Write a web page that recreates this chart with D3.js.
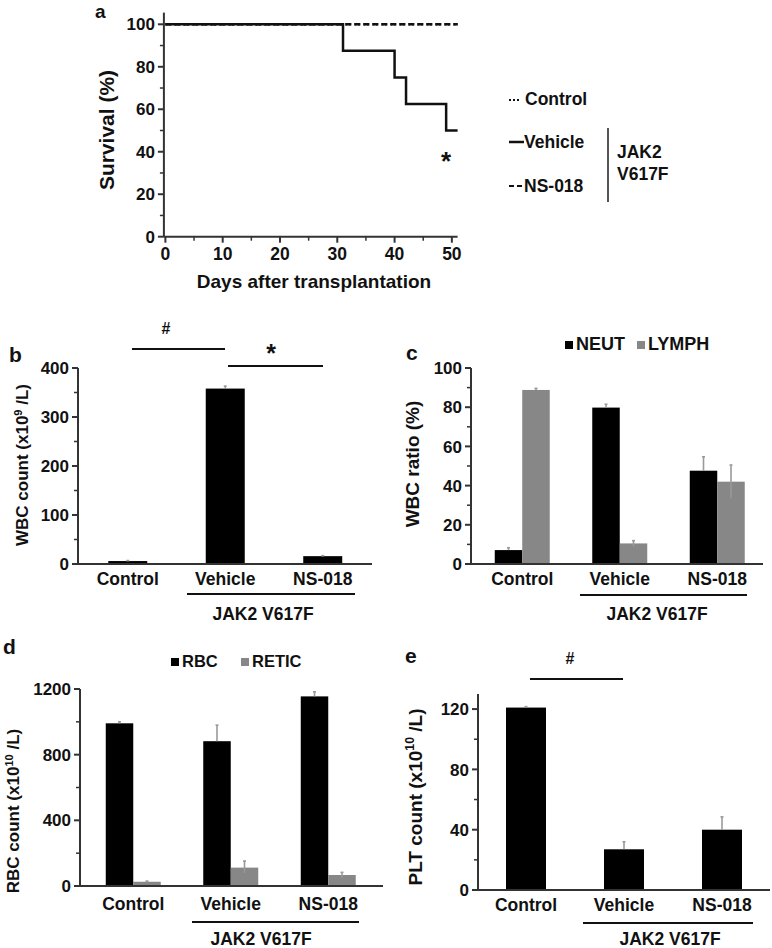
<!DOCTYPE html>
<html><head><meta charset="utf-8">
<script src="https://cdn.jsdelivr.net/npm/d3@7"></script>
<style>
html,body{margin:0;padding:0;background:#fff;}
svg text{font-family:"Liberation Sans",Arial,Helvetica,sans-serif;font-weight:bold;fill:#111;}
</style></head>
<body>
<svg id="chart" width="772" height="948"></svg>
<script>
// ---------- DATA ----------
// Panel a: Kaplan–Meier survival
const survDays = [0, 31, 40, 42, 49, 51];
const survVehicle = [100, 87.5, 75, 62.5, 50, 50];
const survControlDays = [0, 51];
const survControl = [100, 100];
const survNSDays = [0, 51];
const survNS = [100, 100];
const survXTicks = [0, 10, 20, 30, 40, 50];
const survYTicks = [0, 20, 40, 60, 80, 100];

const groups = ["Control", "Vehicle", "NS-018"];

// Panel b: WBC count
const wbcValues = [6, 358, 16];
const wbcErrHigh = [7, 363, 17];
const wbcTicks = [0, 100, 200, 300, 400];

// Panel c: WBC ratio
const neutValues = [7.1, 79.8, 47.6];
const neutErrHigh = [8.3, 81.5, 54.7];
const neutErrLow = [7.1, 79.8, 47.6];
const lymphValues = [88.8, 10.5, 42];
const lymphErrHigh = [89.6, 11.9, 50.5];
const lymphErrLow = [88.8, 8.9, 33.5];
const ratioTicks = [0, 20, 40, 60, 80, 100];

// Panel d: RBC / RETIC count
const rbcValues = [991, 882, 1155];
const rbcErrHigh = [1000, 980, 1183];
const rbcErrLow = [991, 882, 1155];
const reticValues = [26, 112, 67];
const reticErrHigh = [30, 152, 83];
const reticErrLow = [22, 79, 51];
const rbcTicks = [0, 400, 800, 1200];

// Panel e: PLT count
const pltValues = [121, 27, 40];
const pltErrHigh = [121.6, 32, 48.5];
const pltTicks = [0, 40, 80, 120];

// ---------- DRAW ----------
const svg = d3.select("#chart");
const AX = "#333";
const GRAY = "#878787";
const FS = 17;
const CFS = 17.5;

function yAxis(g, y, x0, ticks, minorTicks) {
  g.append("line").attr("x1", x0).attr("x2", x0)
    .attr("y1", y.range()[0]).attr("y2", y.range()[1])
    .attr("stroke", AX).attr("stroke-width", 2);
  minorTicks.forEach(t => g.append("line").attr("x1", x0 - 4).attr("x2", x0)
    .attr("y1", y(t)).attr("y2", y(t)).attr("stroke", AX).attr("stroke-width", 1.5));
  ticks.forEach(t => {
    g.append("line").attr("x1", x0 - 6).attr("x2", x0).attr("y1", y(t)).attr("y2", y(t))
      .attr("stroke", AX).attr("stroke-width", 2);
    g.append("text").attr("x", x0 - 9).attr("y", y(t)).attr("dy", "0.36em")
      .attr("text-anchor", "end").attr("font-size", FS).text(t);
  });
}

function xAxisCat(g, x, y0, x1, x2, labelBase) {
  g.append("line").attr("x1", x1).attr("x2", x2).attr("y1", y0).attr("y2", y0)
    .attr("stroke", AX).attr("stroke-width", 2);
  groups.forEach(c => g.append("text").attr("x", x(c) + x.bandwidth() / 2)
    .attr("y", labelBase).attr("text-anchor", "middle").attr("font-size", CFS).text(c));
}

function jakBracket(g, x1, x2, yl, cx, base) {
  g.append("line").attr("x1", x1).attr("x2", x2).attr("y1", yl).attr("y2", yl)
    .attr("stroke", "#111").attr("stroke-width", 2);
  g.append("text").attr("x", cx).attr("y", base).attr("text-anchor", "middle")
    .attr("font-size", CFS).text("JAK2 V617F");
}

function yLabel(g, cx, cy, fs, main, sup, tail) {
  const t = g.append("text").attr("transform", `translate(${cx},${cy}) rotate(-90)`)
    .attr("text-anchor", "middle").attr("dy", "0.36em").attr("font-size", fs);
  t.append("tspan").text(main);
  if (sup) {
    t.append("tspan").attr("font-size", fs * 0.65).attr("dy", "-0.6em").text(sup);
    t.append("tspan").attr("dy", "0.4em").attr("font-size", fs).text(tail);
  }
}

function errBar(g, xc, yTop, yBot) {
  g.append("line").attr("x1", xc).attr("x2", xc).attr("y1", yTop).attr("y2", yBot)
    .attr("stroke", "#9a9a9a").attr("stroke-width", 1.6);
  g.append("line").attr("x1", xc - 1.5).attr("x2", xc + 1.5).attr("y1", yTop).attr("y2", yTop)
    .attr("stroke", "#9a9a9a").attr("stroke-width", 1.6);
}

function panelLetter(x, y, s, fs) {
  svg.append("text").attr("x", x).attr("y", y).attr("font-size", fs || 21).text(s);
}

function minors(ticks) {
  const m = [];
  for (let i = 0; i < ticks.length - 1; i++) m.push((ticks[i] + ticks[i + 1]) / 2);
  return m;
}

// ===== Panel a =====
{
  const g = svg.append("g");
  const x = d3.scaleLinear().domain([0, 51]).range([165.4, 457.6]);
  const y = d3.scaleLinear().domain([0, 100]).range([236.7, 24.3]);
  const x0 = x(0) - 1.5;
  // y axis
  g.append("line").attr("x1", x0).attr("x2", x0).attr("y1", y(0)).attr("y2", y(105.5))
    .attr("stroke", AX).attr("stroke-width", 2);
  minors(survYTicks).forEach(t => g.append("line").attr("x1", x0 - 4).attr("x2", x0)
    .attr("y1", y(t)).attr("y2", y(t)).attr("stroke", AX).attr("stroke-width", 1.5));
  survYTicks.forEach(t => {
    g.append("line").attr("x1", x0 - 6).attr("x2", x0).attr("y1", y(t)).attr("y2", y(t))
      .attr("stroke", AX).attr("stroke-width", 2);
    g.append("text").attr("x", x0 - 9).attr("y", y(t)).attr("dy", "0.36em")
      .attr("text-anchor", "end").attr("font-size", FS).text(t);
  });
  // x axis
  g.append("line").attr("x1", x0).attr("x2", x(51)).attr("y1", y(0)).attr("y2", y(0))
    .attr("stroke", AX).attr("stroke-width", 2);
  minors(survXTicks).forEach(t => g.append("line").attr("x1", x(t)).attr("x2", x(t))
    .attr("y1", y(0)).attr("y2", y(0) + 4).attr("stroke", AX).attr("stroke-width", 1.5));
  survXTicks.forEach(t => {
    g.append("line").attr("x1", x(t)).attr("x2", x(t)).attr("y1", y(0)).attr("y2", y(0) + 6)
      .attr("stroke", AX).attr("stroke-width", 2);
    g.append("text").attr("x", x(t)).attr("y", 260).attr("text-anchor", "middle")
      .attr("font-size", FS + 0.5).text(t);
  });
  g.append("text").attr("x", 314).attr("y", 288).attr("text-anchor", "middle")
    .attr("font-size", 19).text("Days after transplantation");
  yLabel(g, 106, 130, 21, "Survival (%)");

  const line = d3.line().x(d => x(d[0])).y(d => y(d[1])).curve(d3.curveStepAfter);
  // control dotted pattern nested inside NS-018 dashes (period 9) so it hides beneath them
  g.append("path").datum(d3.zip(survControlDays, survControl)).attr("d", line)
    .attr("fill", "none").attr("stroke", "#111").attr("stroke-width", 2.5).attr("stroke-dasharray", "2,1.5,2,3.5");
  g.append("path").datum(d3.zip(survNSDays, survNS)).attr("d", line)
    .attr("fill", "none").attr("stroke", "#111").attr("stroke-width", 2.5).attr("stroke-dasharray", "6,3");
  g.append("path").datum(d3.zip(survDays, survVehicle)).attr("d", line)
    .attr("fill", "none").attr("stroke", "#111").attr("stroke-width", 2.5);
  g.append("text").attr("x", 446).attr("y", 170).attr("text-anchor", "middle")
    .attr("font-size", 26).text("*");

  // legend
  g.append("line").attr("x1", 509).attr("x2", 521).attr("y1", 100).attr("y2", 100)
    .attr("stroke", "#111").attr("stroke-width", 2).attr("stroke-dasharray", "2,2");
  g.append("text").attr("x", 525).attr("y", 105).attr("font-size", CFS).text("Control");
  g.append("line").attr("x1", 509).attr("x2", 524).attr("y1", 142).attr("y2", 142)
    .attr("stroke", "#111").attr("stroke-width", 2.5);
  g.append("text").attr("x", 524).attr("y", 148).attr("font-size", CFS).text("Vehicle");
  g.append("line").attr("x1", 509).attr("x2", 523).attr("y1", 186).attr("y2", 186)
    .attr("stroke", "#111").attr("stroke-width", 2).attr("stroke-dasharray", "5,3");
  g.append("text").attr("x", 524).attr("y", 192).attr("font-size", CFS).text("NS-018");
  g.append("line").attr("x1", 608).attr("x2", 608).attr("y1", 128).attr("y2", 202)
    .attr("stroke", "#555").attr("stroke-width", 2);
  g.append("text").attr("x", 617).attr("y", 158).attr("font-size", CFS).text("JAK2");
  g.append("text").attr("x", 617).attr("y", 180).attr("font-size", CFS).text("V617F");
}
panelLetter(95, 18, "a", 19);

// ===== Panel b =====
{
  const g = svg.append("g");
  const x = d3.scaleBand().domain(groups).range([79, 371.5]).paddingInner(0.6).paddingOuter(0.3);
  const y = d3.scaleLinear().domain([0, 400]).range([564, 368]);
  groups.forEach((c, i) => {
    g.append("rect").attr("x", x(c)).attr("width", x.bandwidth())
      .attr("y", y(wbcValues[i])).attr("height", y(0) - y(wbcValues[i])).attr("fill", "#000");
    errBar(g, x(c) + x.bandwidth() / 2, y(wbcErrHigh[i]), y(wbcValues[i]));
  });
  yAxis(g, y, 78, wbcTicks, minors(wbcTicks));
  xAxisCat(g, x, 564, 78, 372, 585);
  jakBracket(g, 187, 355, 594, 263, 620);
  yLabel(g, 22, 465, 17, "WBC count  (x10", "9", " /L)");
  g.append("line").attr("x1", 132).attr("x2", 225).attr("y1", 349).attr("y2", 349)
    .attr("stroke", "#111").attr("stroke-width", 2);
  g.append("text").attr("x", 166).attr("y", 334).attr("text-anchor", "middle").attr("font-size", 16).text("#");
  g.append("line").attr("x1", 228).attr("x2", 323).attr("y1", 366).attr("y2", 366)
    .attr("stroke", "#111").attr("stroke-width", 2);
  g.append("text").attr("x", 271).attr("y", 362).attr("text-anchor", "middle").attr("font-size", 25).text("*");
}
panelLetter(9, 362, "b");

// grouped bar helper
function grouped(g, x, y, s1, e1h, e1l, s2, e2h, e2l) {
  const bw = x.bandwidth() / 2;
  groups.forEach((c, i) => {
    g.append("rect").attr("x", x(c)).attr("width", bw)
      .attr("y", y(s1[i])).attr("height", y(0) - y(s1[i])).attr("fill", "#000");
    g.append("rect").attr("x", x(c) + bw).attr("width", bw)
      .attr("y", y(s2[i])).attr("height", y(0) - y(s2[i])).attr("fill", GRAY);
  });
  groups.forEach((c, i) => {
    errBar(g, x(c) + bw / 2, y(e1h[i]), y(e1l[i]));
    errBar(g, x(c) + bw * 1.5, y(e2h[i]), y(e2l[i]));
  });
}
function legend2(g, x1, x2, yb, n1, n2, fs) {
  g.append("rect").attr("x", x1).attr("y", yb - 9).attr("width", 8).attr("height", 8).attr("fill", "#000");
  g.append("text").attr("x", x1 + 11).attr("y", yb).attr("font-size", fs).text(n1);
  g.append("rect").attr("x", x2).attr("y", yb - 9).attr("width", 8).attr("height", 8).attr("fill", GRAY);
  g.append("text").attr("x", x2 + 11).attr("y", yb).attr("font-size", fs).text(n2);
}

// ===== Panel c =====
{
  const g = svg.append("g");
  const x = d3.scaleBand().domain(groups).range([473.5, 766]).paddingInner(0.436).paddingOuter(0.218);
  const y = d3.scaleLinear().domain([0, 100]).range([564, 368]);
  grouped(g, x, y, neutValues, neutErrHigh, neutErrLow, lymphValues, lymphErrHigh, lymphErrLow);
  yAxis(g, y, 471, ratioTicks, minors(ratioTicks));
  xAxisCat(g, x, 564, 471, 763, 585);
  jakBracket(g, 580, 747, 595, 657, 620);
  yLabel(g, 412, 464, 19, "WBC ratio  (%)");
  legend2(g, 565, 637, 350, "NEUT", "LYMPH", 18);
}
panelLetter(406, 360, "c");

// ===== Panel d =====
{
  const g = svg.append("g");
  const x = d3.scaleBand().domain(groups).range([84.5, 377]).paddingInner(0.436).paddingOuter(0.218);
  const y = d3.scaleLinear().domain([0, 1200]).range([886, 689]);
  grouped(g, x, y, rbcValues, rbcErrHigh, rbcErrLow, reticValues, reticErrHigh, reticErrLow);
  yAxis(g, y, 80, rbcTicks, minors(rbcTicks));
  xAxisCat(g, x, 886, 80, 383, 910);
  jakBracket(g, 192, 359, 922, 261, 945);
  yLabel(g, 13, 811, 17, "RBC count  (x10", "10", " /L)");
  legend2(g, 171, 241, 667, "RBC", "RETIC", 16.5);
}
panelLetter(3, 654, "d");

// ===== Panel e =====
{
  const g = svg.append("g");
  const x = d3.scaleBand().domain(groups).range([477, 771]).paddingInner(0.592).paddingOuter(0.296);
  const y = d3.scaleLinear().domain([0, 130]).range([890, 694]);
  groups.forEach((c, i) => {
    g.append("rect").attr("x", x(c)).attr("width", x.bandwidth())
      .attr("y", y(pltValues[i])).attr("height", y(0) - y(pltValues[i])).attr("fill", "#000");
    errBar(g, x(c) + x.bandwidth() / 2, y(pltErrHigh[i]), y(pltValues[i]));
  });
  yAxis(g, y, 478, pltTicks, minors(pltTicks));
  xAxisCat(g, x, 890, 478, 770, 911);
  jakBracket(g, 583, 753, 923, 670, 945);
  yLabel(g, 415, 797, 19, "PLT count  (x10", "10", " /L)");
  g.append("line").attr("x1", 530).attr("x2", 623).attr("y1", 679).attr("y2", 679)
    .attr("stroke", "#111").attr("stroke-width", 2);
  g.append("text").attr("x", 570).attr("y", 664).attr("text-anchor", "middle").attr("font-size", 16).text("#");
}
panelLetter(405, 663, "e");
</script>
</body></html>
